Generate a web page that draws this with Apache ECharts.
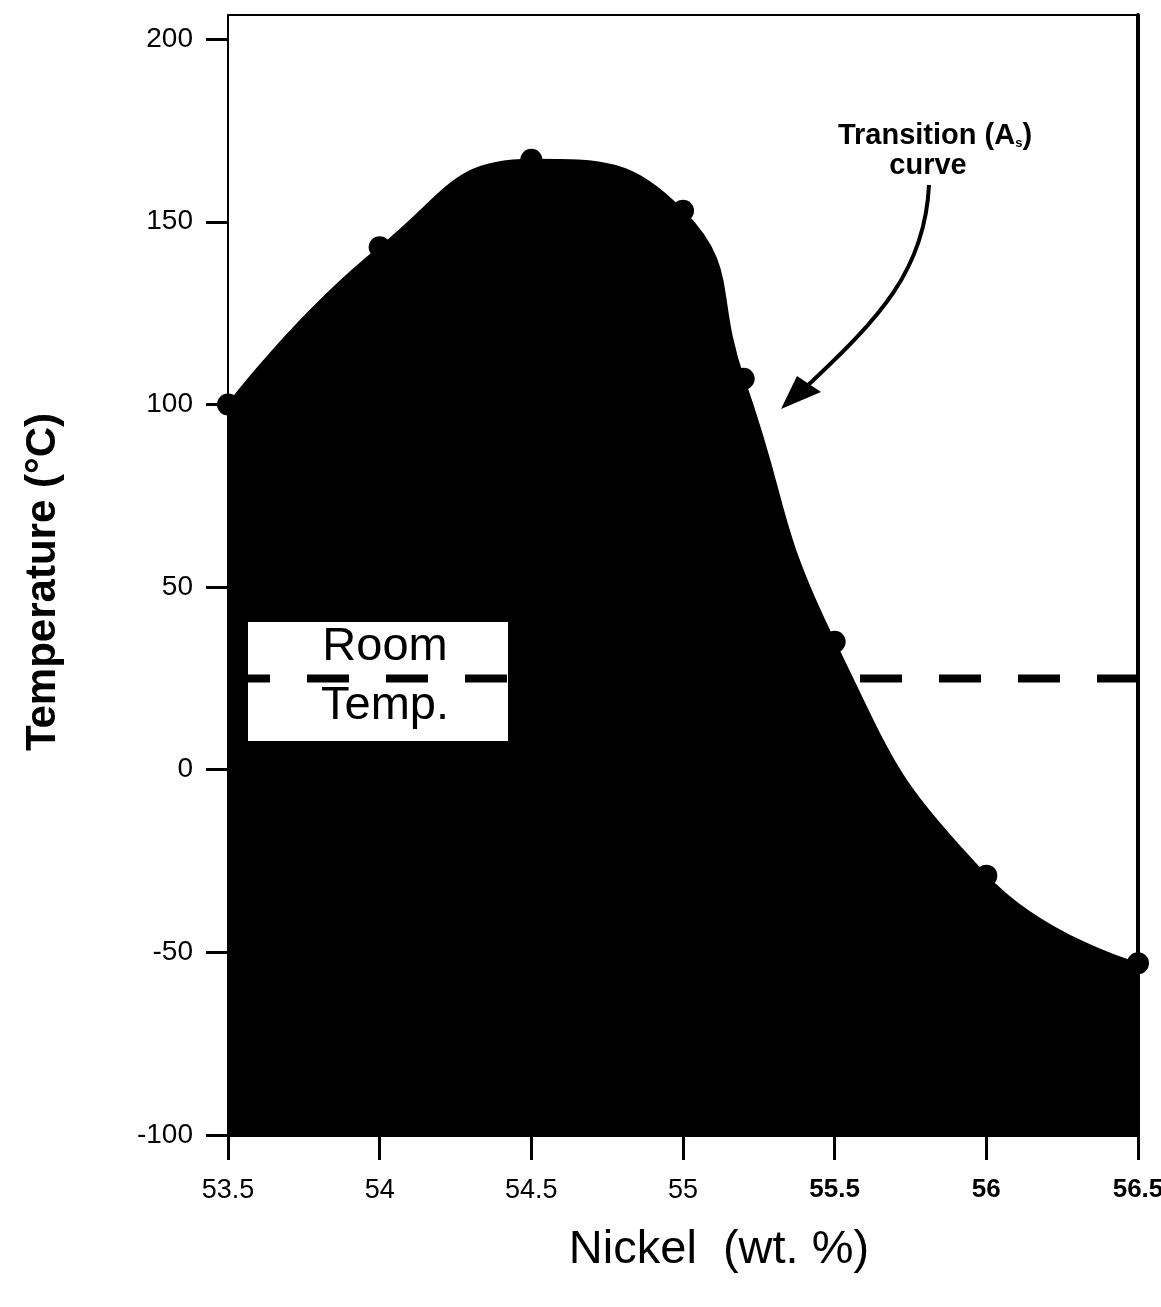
<!DOCTYPE html>
<html>
<head>
<meta charset="utf-8">
<script src="https://cdn.jsdelivr.net/npm/echarts@6/dist/echarts.min.js"></script>
<style>
html,body{margin:0;padding:0;background:#fff;}
#chart{width:1161px;height:1307px;}
</style>
</head>
<body>
<div id="chart"></div>
<script>
// Data
const nickel = [53.5, 54.0, 54.5, 55.0, 55.2, 55.5, 56.0, 56.5];          // wt. %
const transitionTemp = [100, 143, 167, 153, 107, 35, -29, -53];           // Af (°C)
const roomTemp = 25;                                                        // °C
const xTicks = [53.5, 54, 54.5, 55, 55.5, 56, 56.5];
const yTicks = [-100, -50, 0, 50, 100, 150, 200];

const curveData = nickel.map((x, i) => [x, transitionTemp[i]]);
const roomData = [[xTicks[0], roomTemp], [xTicks[xTicks.length - 1], roomTemp]];

const FONT = '"Liberation Sans", Arial, Helvetica, sans-serif';
const chart = echarts.init(document.getElementById('chart'), null, {renderer: 'canvas'});

const option = {
  backgroundColor: '#fff',
  animation: false,
  grid: {left: 228, right: 23, top: 15, bottom: 172, containLabel: false, outerBoundsMode: 'none'},
  xAxis: [{
    type: 'value', min: 53.5, max: 56.5, interval: 0.5,
    name: 'Nickel  (wt. %)', nameLocation: 'middle', nameGap: 92,
    nameTextStyle: {fontFamily: FONT, fontSize: 47, color: '#000', padding: [0, 0, 0, 72]},
    axisLine: {show: true, onZero: false, lineStyle: {color: '#000', width: 3}},
    axisTick: {show: true, inside: false, length: 25, lineStyle: {color: '#000', width: 3}},
    axisLabel: {
      margin: 42, color: '#000', fontFamily: FONT, fontSize: 27,
      formatter: v => (v >= 55.5 ? '{b|' + v + '}' : '{n|' + v + '}'),
      rich: {
        n: {fontFamily: FONT, fontSize: 27, color: '#000'},
        b: {fontFamily: FONT, fontSize: 26, fontWeight: 'bold', color: '#000'}
      }
    },
    splitLine: {show: false}
  }, {
    type: 'value', min: 53.5, max: 56.5, position: 'top',
    axisLine: {show: true, onZero: false, lineStyle: {color: '#000', width: 2}},
    axisTick: {show: false}, axisLabel: {show: false}, splitLine: {show: false}
  }],
  yAxis: [{
    type: 'value', min: -100, max: 206.6, interval: 50,
    name: 'Temperature (°C)', nameLocation: 'middle', nameGap: 164,
    nameTextStyle: {fontFamily: FONT, fontSize: 42, fontWeight: 'bold', color: '#000', padding: [0, 14, 0, 0]},
    axisLine: {show: true, onZero: false, lineStyle: {color: '#000', width: 2}},
    axisTick: {show: true, inside: false, length: 22, customValues: yTicks, lineStyle: {color: '#000', width: 3}},
    axisLabel: {margin: 35, color: '#000', fontFamily: FONT, fontSize: 28, customValues: yTicks},
    splitLine: {show: false}
  }, {
    type: 'value', min: -100, max: 206.6, position: 'right',
    axisLine: {show: true, onZero: false, lineStyle: {color: '#000', width: 4}},
    axisTick: {show: false}, axisLabel: {show: false}, splitLine: {show: false}
  }],
  series: [{
    name: 'Transition (As) curve', type: 'line', data: curveData, smooth: 0.5,
    symbol: 'none', z: 2,
    lineStyle: {color: '#000', width: 2},
    areaStyle: {color: '#000', opacity: 1, origin: 'start'}
  }, {
    name: 'Measured', type: 'scatter', data: curveData, symbol: 'circle', symbolSize: 22,
    clip: false, z: 3, itemStyle: {color: '#000', opacity: 1}
  }, {
    name: 'Room Temp.', type: 'line', data: roomData, symbol: 'none', z: 10,
    lineStyle: {color: '#000', width: 8, type: [42, 37], cap: 'butt'}
  }],
  graphic: [
    {type: 'rect', z: 5, shape: {x: 248, y: 622, width: 260, height: 119}, style: {fill: '#fff', stroke: null}},
    {type: 'text', z: 6, style: {x: 385, y: 647, text: 'Room', font: '47px ' + FONT, fill: '#000', textAlign: 'center', textVerticalAlign: 'middle'}},
    {type: 'text', z: 6, style: {x: 385, y: 706, text: 'Temp.', font: '47px ' + FONT, fill: '#000', textAlign: 'center', textVerticalAlign: 'middle'}},
    {type: 'text', z: 6, style: {
      x: 935, y: 150, text: 'Transition (A{s|s})', fill: '#000', textAlign: 'center', textVerticalAlign: 'bottom',
      fontFamily: FONT, fontSize: 29, fontWeight: 'bold',
      rich: {s: {fontFamily: FONT, fontSize: 13, fontWeight: 'bold', fill: '#000', verticalAlign: 'bottom'}}
    }},
    {type: 'text', z: 6, style: {x: 928, y: 180, text: 'curve', fill: '#000', textAlign: 'center', textVerticalAlign: 'bottom', fontFamily: FONT, fontSize: 29, fontWeight: 'bold'}},
    {type: 'bezierCurve', z: 6, shape: {x1: 929, y1: 185, cpx1: 925, cpy1: 270, cpx2: 880, cpy2: 318, x2: 805, y2: 388}, style: {stroke: '#000', lineWidth: 4, fill: null}},
    {type: 'polygon', z: 6, shape: {points: [[781, 409], [797, 376], [821, 392]]}, style: {fill: '#000'}}
  ]
};
chart.setOption(option);
</script>
</body>
</html>
